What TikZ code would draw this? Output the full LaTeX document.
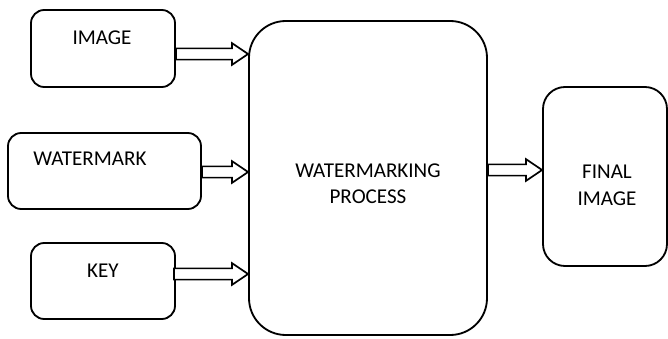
\documentclass[tikz,border=0pt]{standalone}
\usepackage{fontspec}
\setmainfont{Carlito}
\usepackage{tikz}
\usetikzlibrary{calc}

\tikzset{
  box/.style={draw, line width=1.3pt, rounded corners=#1, inner sep=0pt},
  box/.default=0.33cm,
  label text/.style={font=\fontsize{15}{19}\selectfont, align=center, inner sep=0pt},
  arrowline/.style={draw, line width=1.2pt, fill=white, line join=miter}
}

% hollow block arrow from #1 to #2 (same height)
\newcommand{\blockarrow}[2]{%
  \draw[arrowline] let \p1=(#1), \p2=(#2) in
    (\x1,\y1+0.14cm) -- (\x2-0.4cm,\y1+0.14cm) -- (\x2-0.4cm,\y1+0.27cm) --
    (\x2,\y1) -- (\x2-0.4cm,\y1-0.27cm) -- (\x2-0.4cm,\y1-0.14cm) --
    (\x1,\y1-0.14cm) -- cycle;}

\begin{document}
\begin{tikzpicture}
  \useasboundingbox (0,0) rectangle (16.7,8.45);
  % input blocks
  \node[box, minimum width=3.6cm, minimum height=1.925cm] (img) at (2.575,7.2375) {};
  \node[box, minimum width=4.825cm, minimum height=1.9cm] (wm) at (2.6125,4.175) {};
  \node[box, minimum width=3.6cm, minimum height=1.9cm] (key) at (2.575,1.425) {};
  \node[label text] (imgtext) at (2.55,7.5) {IMAGE};
  \node[label text] (wmtext) at (2.25,4.475) {WATERMARK};
  \node[label text] (keytext) at (2.575,1.675) {KEY};
  % process and output blocks
  \node[box=0.92cm, minimum width=5.95cm, minimum height=7.85cm] (proc) at (9.2,4.0) {};
  \node[label text] (proctext) at (9.2,3.86) {WATERMARKING\\PROCESS};
  \node[box=0.55cm, minimum width=3.1cm, minimum height=4.475cm] (final) at (15.125,4.0375) {};
  \node[label text] (finaltext) at (15.175,3.825) {FINAL\\IMAGE};
  % arrow ends
  \coordinate (a1) at (img.east |- 0,7.1);
  \coordinate (a2) at (wm.east |- 0,4.15);
  \coordinate (a3) at ([xshift=-0.05cm]key.east |- 0,1.6);
  \coordinate (a4) at (proc.east |- 0,4.2);
  \blockarrow{a1}{a1 -| proc.west}
  \blockarrow{a2}{a2 -| proc.west}
  \blockarrow{a3}{a3 -| proc.west}
  \blockarrow{a4}{a4 -| final.west}
\end{tikzpicture}
\end{document}
